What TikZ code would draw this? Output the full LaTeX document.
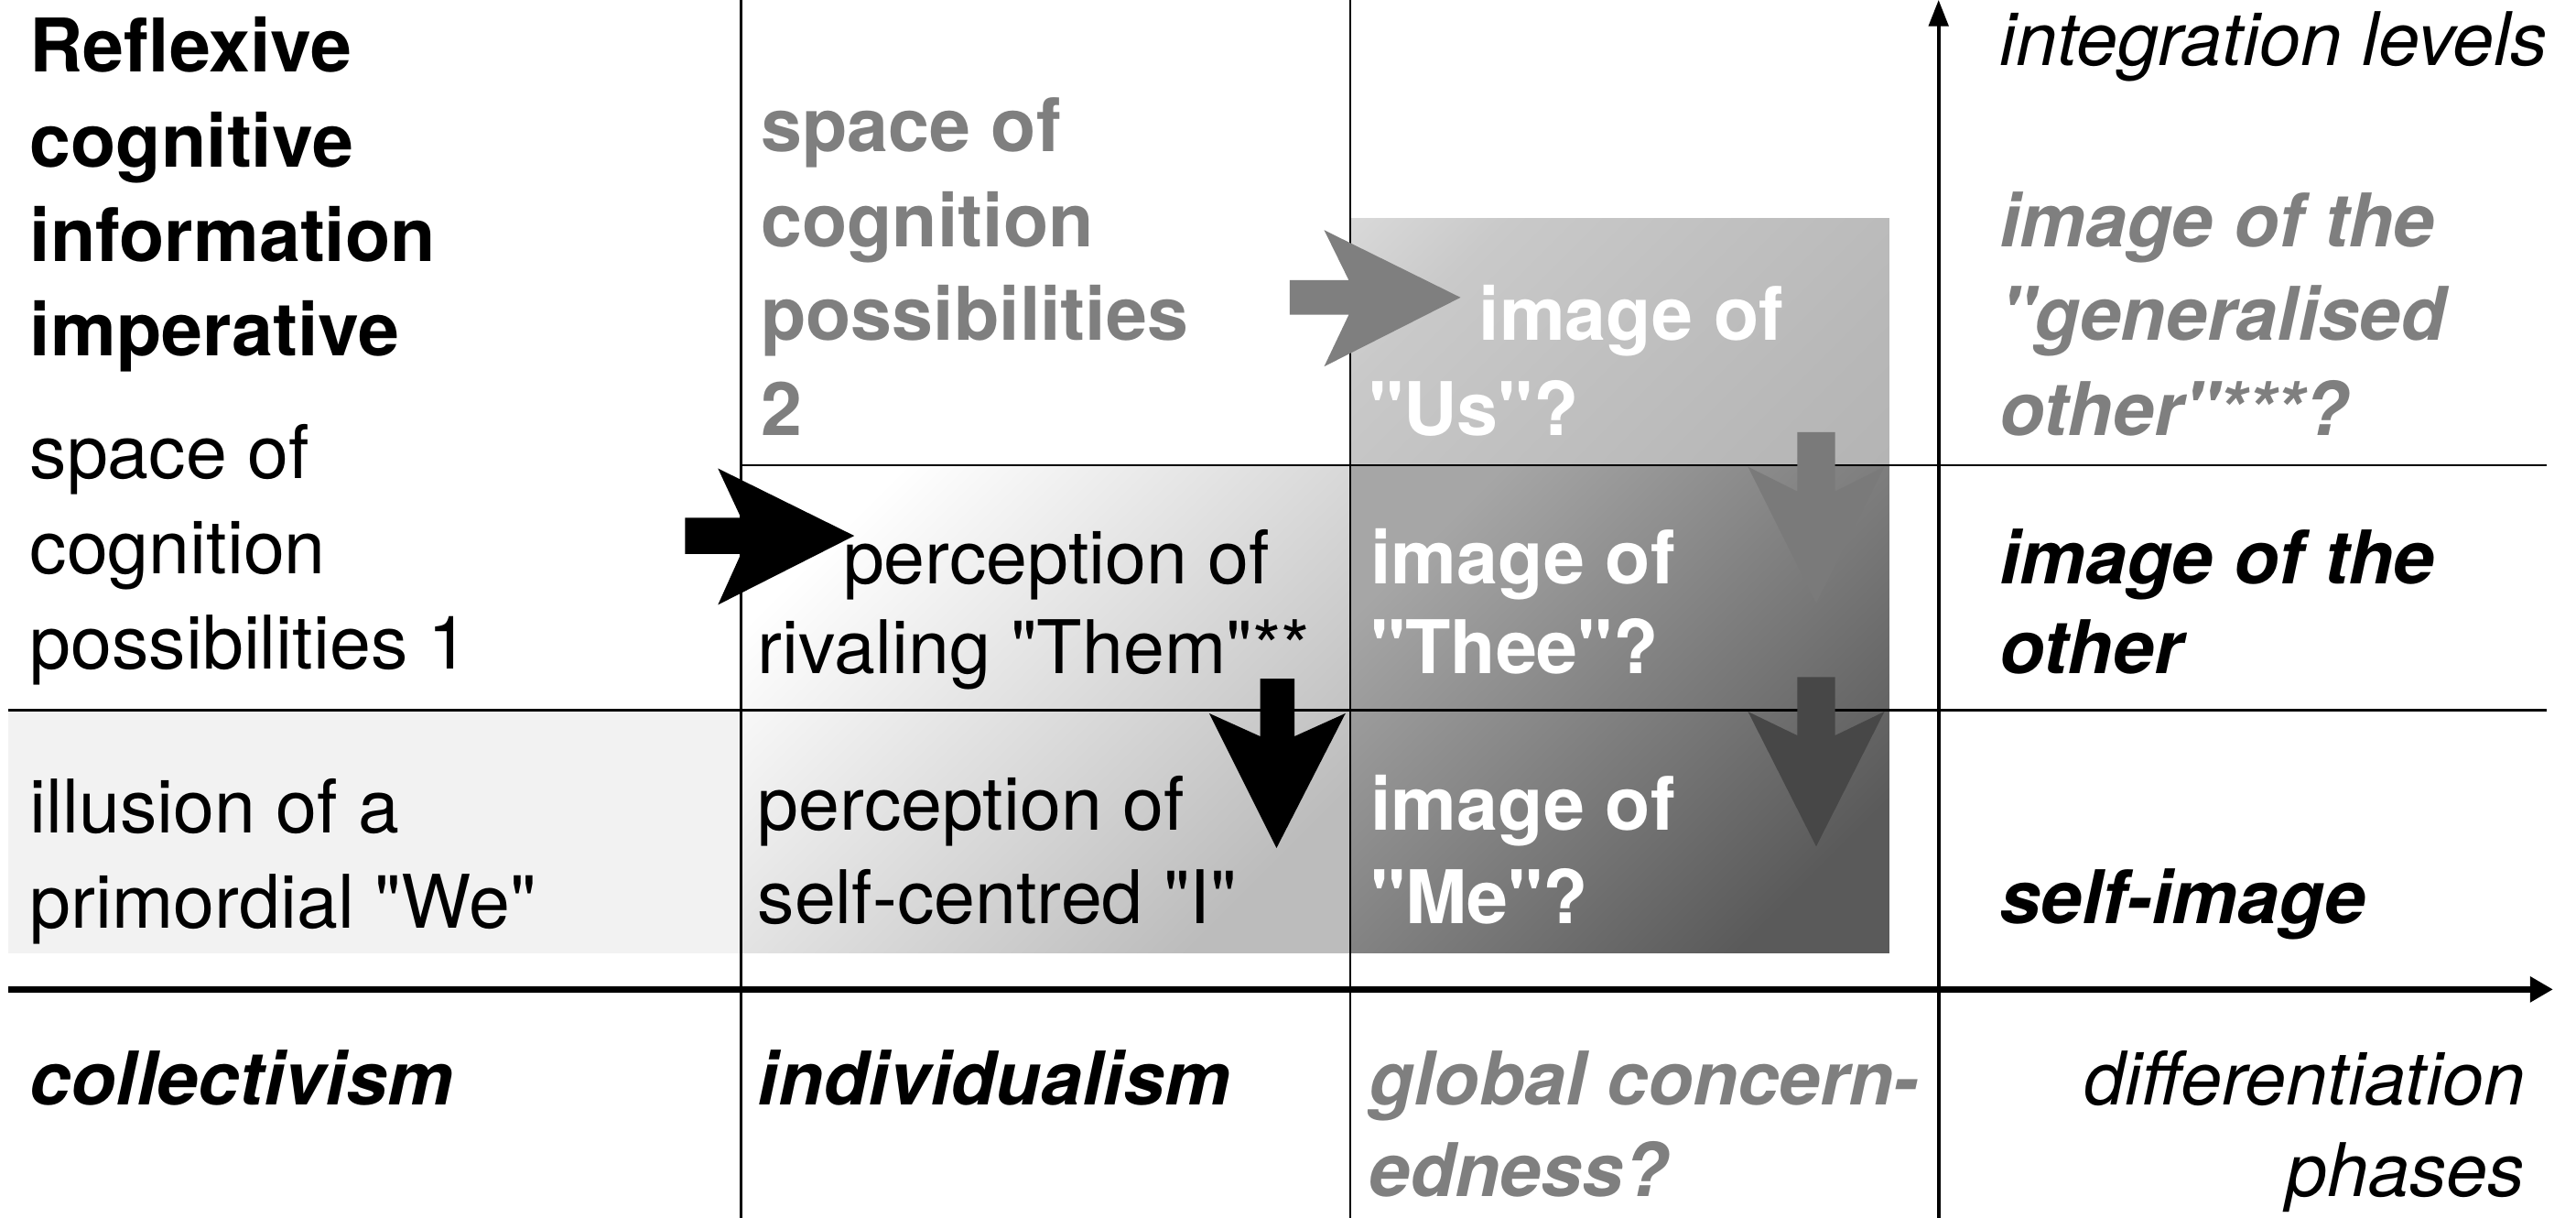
\documentclass[tikz,border=0pt]{standalone}
\usepackage{fontspec}
\setmainfont{TeX Gyre Heros}[Ligatures=TeXOff]
\usetikzlibrary{arrows.meta}
\definecolor{txtgray}{HTML}{7F7F7F}
\definecolor{lightbg}{HTML}{F2F2F2}
\definecolor{midend}{HTML}{BCBCBC}
\definecolor{usA}{HTML}{B0B0B0}
\definecolor{usB}{HTML}{B8B8B8}
\definecolor{usC}{HTML}{C0C0C0}
\definecolor{usD}{HTML}{C9C9C9}
\definecolor{usE}{HTML}{E0E0E0}
\definecolor{usF}{HTML}{F2F2F2}
\definecolor{lowstart}{HTML}{A6A6A6}
\definecolor{lowend}{HTML}{5A5A5A}
\definecolor{arrmid}{HTML}{7A7A7A}
\definecolor{arrdark}{HTML}{474747}
\pgfdeclareverticalshading{usshade}{100bp}{color(0bp)=(usA); color(29bp)=(usB); color(50bp)=(usC); color(71bp)=(usD); color(92bp)=(usE); color(100bp)=(usF)}
\begin{document}
\begin{tikzpicture}[x=1pt,y=-1pt,
  t/.style={anchor=base west, inner sep=0pt, font=\fontsize{45}{54}\selectfont},
  tb/.style={t, font=\fontsize{45}{54}\selectfont\bfseries},
  ti/.style={t, font=\fontsize{45}{54}\selectfont\itshape},
  tbi/.style={t, font=\fontsize{45}{54}\selectfont\bfseries\itshape},
  grid/.style={line width=1.4pt, black}]
\useasboundingbox (0,0) rectangle (1568,741);
\fill[white] (0,0) rectangle (1568,741);

% shaded backgrounds
\fill[lightbg] (5,432) rectangle (451,580);
\shade[top color=white, bottom color=midend, shading angle=45] (451,283) rectangle (822,580);
\shade[shading=usshade, shading angle=45] (822,133) rectangle (1150,283);
\shade[top color=lowstart, bottom color=lowend, shading angle=45] (822,283) rectangle (1150,580);

% grid lines
\draw[grid] (451,0) -- (451,741);
\draw[grid] (822,0) -- (822,741);
\draw[grid] (451,283) -- (1550,283);
\draw[grid] (5,432) -- (1550,432);

% axes
\coordinate (vbot) at (1180,741);
\coordinate (vtop) at (1180,0);
\coordinate (hleft) at (5,602);
\coordinate (hright) at (1554,602);
\draw[line width=2pt, -{Triangle[length=16pt,width=12pt]}] (vbot) -- (vtop);
\draw[line width=3.5pt, -{Triangle[length=14pt,width=15pt]}] (hleft) -- (hright);

% block arrows
\fill[black] (417,315) -- (451,315) -- (437,285) -- (520,326) -- (437,368) -- (451,337) -- (417,337) -- cycle;
\fill[black] (767,413) -- (788,413) -- (788,448) -- (819,434) -- (777,516) -- (736,434) -- (767,448) -- cycle;
\fill[txtgray] (785,170.5) -- (821,170.5) -- (806,140) -- (889,181) -- (806,223) -- (821,191.5) -- (785,191.5) -- cycle;
\fill[arrmid] (1094,263) -- (1117,263) -- (1117,299) -- (1147,284) -- (1105.5,367) -- (1064,284) -- (1094,299) -- cycle;
\fill[arrdark] (1094,412) -- (1117,412) -- (1117,447.5) -- (1147,433) -- (1105.5,515) -- (1064,433) -- (1094,447.5) -- cycle;

% column 1
\node[tb] (r1) at (18,44) {Reflexive};
\node[tb] (r2) at (18,101.5) {cognitive};
\node[tb] (r3) at (18,159) {information};
\node[tb] (r4) at (18,216.5) {imperative};
\node[t] (s1a) at (18,291) {space of};
\node[t] (s1b) at (18,349) {cognition};
\node[t] (s1c) at (18,407) {possibilities 1};
\node[t] (il1) at (18,507) {illusion of a};
\node[t] (il2) at (18,565) {primordial "We"};
\node[tbi] (coll) at (18,672) {collectivism};

% column 2
\node[tb, text=txtgray] (s2a) at (463,92) {space of};
\node[tb, text=txtgray] (s2b) at (463,150) {cognition};
\node[tb, text=txtgray] (s2c) at (463,207) {possibilities};
\node[tb, text=txtgray] (s2d) at (463,265) {2};
\node[t] (pt1) at (513,355) {perception of};
\node[t] (pt2) at (461,410) {rivaling "Them"**};
\node[t] (pi1) at (461,505) {perception of};
\node[t] (pi2) at (461,562) {self-centred "I"};
\node[tbi] (indiv) at (461,672) {individualism};

% column 3
\node[tb, text=white] (us1) at (900,207) {image of};
\node[tb, text=white] (us2) at (833,265) {"Us"?};
\node[tb, text=white] (th1) at (834,355) {image of};
\node[tb, text=white] (th2) at (834,410) {"Thee"?};
\node[tb, text=white] (me1) at (834,505) {image of};
\node[tb, text=white] (me2) at (834,562) {"Me"?};
\node[tbi, text=txtgray] (gc1) at (833,672) {global concern-};
\node[tbi, text=txtgray] (gc2) at (833,728) {edness?};

% column 4
\node[ti] (intl) at (1217,40) {integration levels};
\node[tbi, text=txtgray] (go1) at (1217,150) {image of the};
\node[tbi, text=txtgray] (go2) at (1217,207) {"generalised};
\node[tbi, text=txtgray] (go3) at (1217,265) {other"***?};
\node[tbi] (io1) at (1217,355) {image of the};
\node[tbi] (io2) at (1217,410) {other};
\node[tbi] (si) at (1217,562) {self-image};
\node[ti, anchor=base east] (dp1) at (1537,672) {differentiation};
\node[ti, anchor=base east] (dp2) at (1537,728) {phases};
\end{tikzpicture}
\end{document}
